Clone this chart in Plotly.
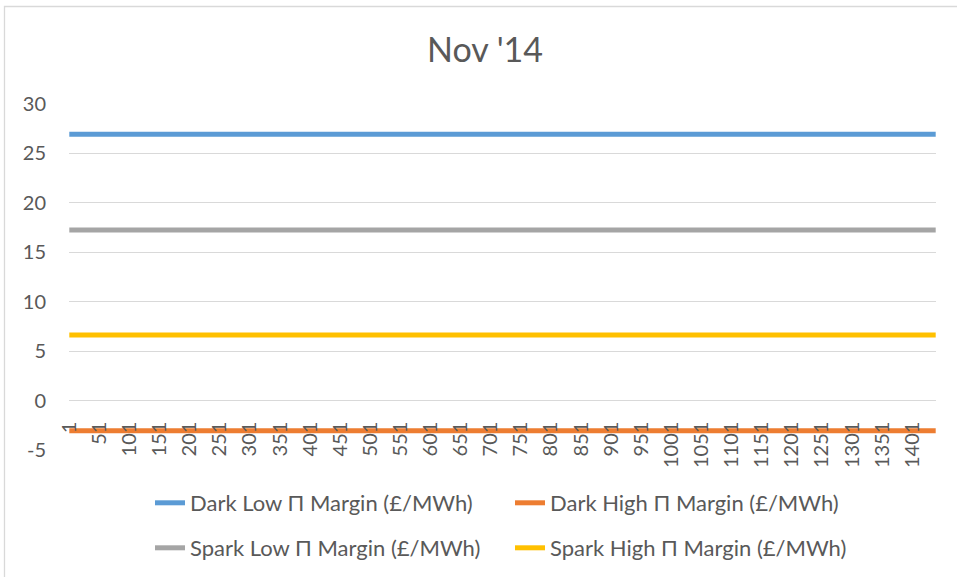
import plotly.graph_objects as go

# half-hourly settlement periods for Nov '14 (30 days x 48)
periods = list(range(1, 1441))

# margin levels (flat over the month), £/MWh
dark_low = [26.93] * len(periods)
dark_high = [-3.05] * len(periods)
spark_low = [17.26] * len(periods)
spark_high = [6.63] * len(periods)

series_names = ["Dark Low Π Margin (£/MWh)", "Dark High Π Margin (£/MWh)",
                "Spark Low Π Margin (£/MWh)", "Spark High Π Margin (£/MWh)"]
series_colors = ["#5B9BD5", "#ED7D31", "#A5A5A5", "#FFC000"]

x_tick_labels = ["1", "51", "101", "151", "201", "251", "301", "351", "401", "451",
                 "501", "551", "601", "651", "701", "751", "801", "851", "901", "951",
                 "1001", "1051", "1101", "1151", "1201", "1251", "1301", "1351", "1401"]
y_tick_values = [-5, 0, 5, 10, 15, 20, 25, 30]
y_tick_labels = ["-5", "0", "5", "10", "15", "20", "25", "30"]

FONT = "Lato"
GREY = "#595959"
GRID = "#D9D9D9"

W, H = 957, 577
L, R, T, B = 69, 21, 104, 127
pw, ph = W - L - R, H - T - B


def px_x(x):
    return (x - L) / pw


def px_y(y):
    return (H - B - y) / ph


fig = go.Figure()
all_series = [dark_low, dark_high, spark_low, spark_high]
for i, (name, color, vals) in enumerate(zip(series_names, series_colors, all_series)):
    fig.add_trace(go.Scatter(x=periods, y=vals, name=name, mode="lines",
                             line=dict(color=color, width=5),
                             legend="legend" if i < 2 else "legend2"))

legend_common = dict(orientation="h", xanchor="left", yanchor="middle",
                     font=dict(family=FONT, size=22, color=GREY),
                     entrywidth=315, entrywidthmode="pixels",
                     itemwidth=30, bgcolor="rgba(0,0,0,0)")

fig.update_layout(
    width=W, height=H,
    margin=dict(l=L, r=R, t=T, b=B, autoexpand=False),
    paper_bgcolor="white", plot_bgcolor="white",
    font=dict(family=FONT, color=GREY),
    title=dict(text="Nov '14", x=485 / W, xanchor="center", y=1 - 50 / H, yanchor="middle",
               font=dict(family=FONT, size=34, color=GREY)),
    xaxis=dict(range=[0.5, 1440.5], anchor="free", position=5 / 35,
               tickvals=[int(t) for t in x_tick_labels], ticktext=x_tick_labels,
               tickangle=-90, showgrid=False, zeroline=False, showline=False,
               ticks="", ticklabelstandoff=16,
               tickfont=dict(family=FONT, size=20, color=GREY)),
    yaxis=dict(range=[-5, 30], tickvals=y_tick_values, ticktext=y_tick_labels,
               showgrid=True, gridcolor=GRID,
               gridwidth=1.3, zeroline=True, zerolinecolor=GRID, zerolinewidth=1.3,
               showline=False, ticks="", ticklabelstandoff=22,
               tickfont=dict(family=FONT, size=20, color=GREY)),
    legend=dict(x=px_x(150), y=px_y(503), **legend_common),
    legend2=dict(x=px_x(150), y=px_y(548), **legend_common),
    showlegend=True,
)

# chart area border, as in the spreadsheet export
fig.add_shape(type="rect", xref="paper", yref="paper",
              x0=px_x(4.5), x1=px_x(W + 20), y0=px_y(H + 20), y1=px_y(6.5),
              line=dict(color=GRID, width=1.3), fillcolor="rgba(0,0,0,0)", layer="below")

# the page is photographed from its top-left corner, so drop the default body margin
fig.write_html("out.html", config={"displayModeBar": False},
               post_script="document.body.style.margin = '0';")
